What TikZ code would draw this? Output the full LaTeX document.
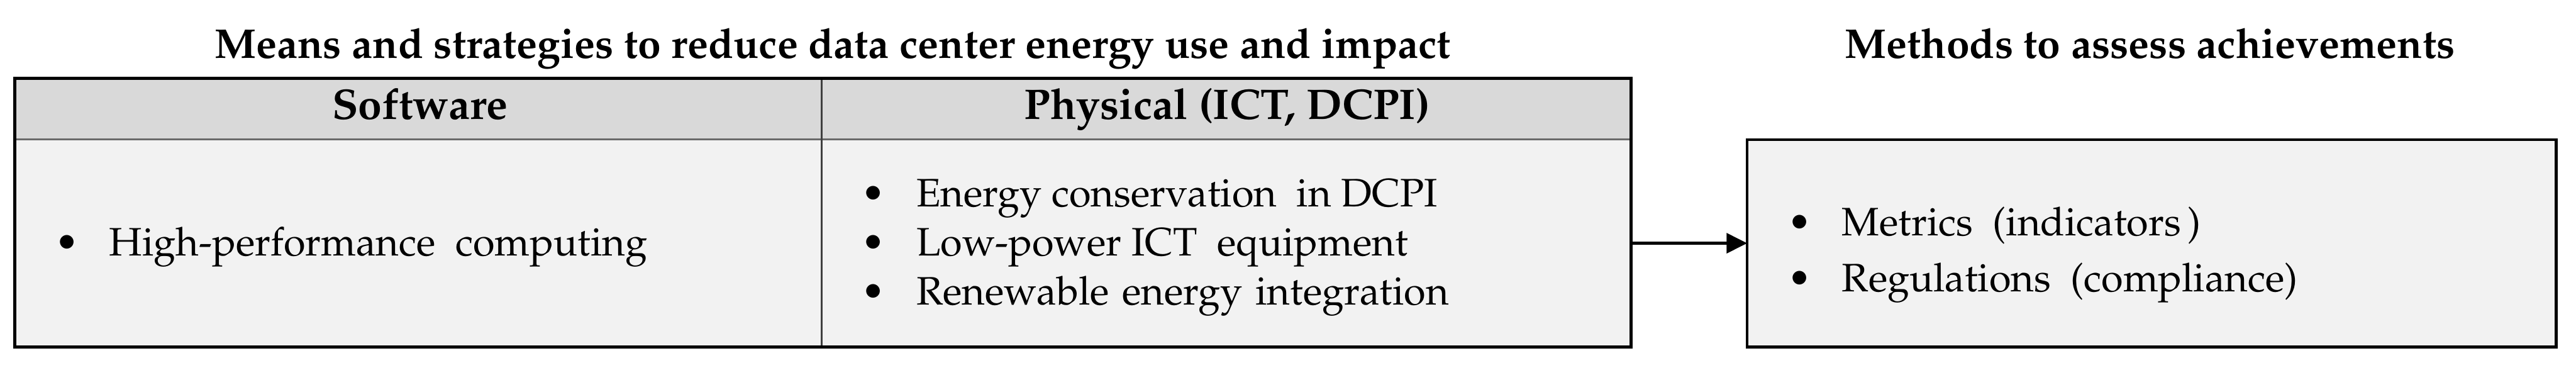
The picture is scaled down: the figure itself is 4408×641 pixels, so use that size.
\documentclass[tikz,border=0pt]{standalone}
\usepackage[T1]{fontenc}
\usepackage{textcomp}
\renewcommand{\rmdefault}{ppl}
\usetikzlibrary{arrows.meta,calc}
\definecolor{hdrfill}{HTML}{D9D9D9}
\definecolor{bodyfill}{HTML}{F2F2F2}
\definecolor{sepgray}{HTML}{6A6A6A}
\definecolor{divgray}{HTML}{404040}
\newcommand{\gp}{\hspace{0.33em}}
\tikzset{
  txt/.style={inner sep=0pt, outer sep=0pt, font=\fontsize{19.3}{23}\selectfont},
  ttl/.style={txt, anchor=base, font=\fontsize{20.2}{24}\selectfont\bfseries},
  hdr/.style={txt, anchor=base, font=\fontsize{20.8}{24}\selectfont\bfseries},
  bul/.style={txt, anchor=base},
  item/.style={txt, anchor=base west},
  frame/.style={draw=black, line width=1.45pt, inner sep=0pt, outer sep=0pt},
}
\begin{document}
\begin{tikzpicture}[x=0.01cm,y=-0.01cm]
\useasboundingbox (0,0) rectangle (4408,641);
% fills
\fill[bodyfill] (26,238) rectangle (2790,593);
\fill[hdrfill] (26,134) rectangle (2790,238);
\fill[bodyfill] (2990,239) rectangle (4374,593);
% inner lines
\draw[sepgray, line width=0.9pt] (26,238) -- (2790,238);
\draw[divgray, line width=0.8pt] (1406,134) -- (1406,593);
% frames as nodes
\node[frame, minimum width=27.64cm, minimum height=4.59cm] (tbl) at (1408,363.5) {};
\node[frame, minimum width=13.84cm, minimum height=3.54cm] (box) at (3682,416) {};
% arrow
\draw[line width=1.3pt, -{Triangle[length=0.35cm, width=0.34cm]}] (box.west -| tbl.east) -- (box.west);
% titles
\node[ttl] (t1) at (1425,100) {Means and strategies to reduce data center energy use and impact};
\node[ttl] (t2) at (3679,100) {Methods to assess achievements};
% headers
\node[hdr] (h1) at (719,204) {Software};
\node[hdr] (h2) at (2100,204) {Physical (ICT, DCPI)};
% software list
\node[bul] (b1) at (115,437) {\textbullet};
\node[item] (i1) at (187,437) {High-performance\ \ computing};
% physical list
\node[bul] (b2) at (1494,354) {\textbullet};
\node[item] (i2) at (1568,354) {Energy conservation\ \ in DCPI};
\node[bul] (b3) at (1494,437) {\textbullet};
\node[item] (i3) at (1568,437) {Low-power ICT\ \ equipment};
\node[bul] (b4) at (1494,521) {\textbullet};
\node[item] (i4) at (1568,521) {Renewable\gp energy\gp integration};
% methods list
\node[bul] (b5) at (3080,403) {\textbullet};
\node[item] (i5) at (3152,403) {Metrics\ \ (indicators\,)};
\node[bul] (b6) at (3080,499) {\textbullet};
\node[item] (i6) at (3152,499) {Regulations\ \ (compliance)};
\end{tikzpicture}
\end{document}
